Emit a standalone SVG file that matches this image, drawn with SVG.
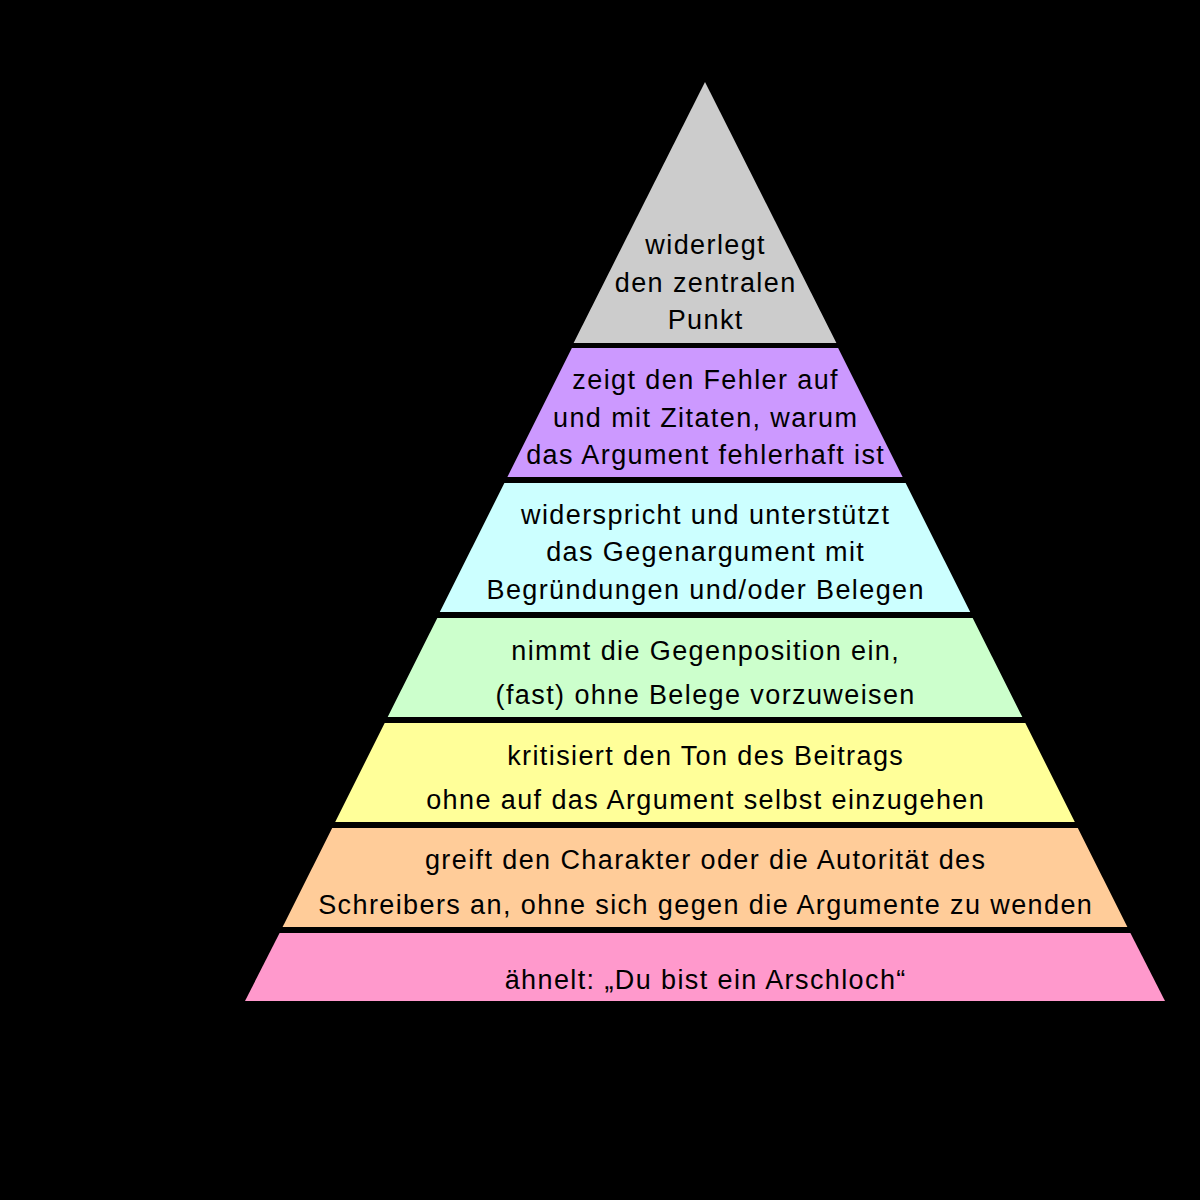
<svg xmlns="http://www.w3.org/2000/svg" width="1200" height="1200" viewBox="0 0 1200 1200">
<style>
text{font-family:"Liberation Sans",Arial,sans-serif;font-size:27px;letter-spacing:1.4px;fill:#000;text-anchor:middle}
</style>
<rect width="1200" height="1200" fill="#000"/>
<g id="level7"><polygon points="705,82 836.4,343 573.6,343" fill="#cccccc"/>
<text x="705.7" y="254">widerlegt</text><text x="705.7" y="292">den zentralen</text><text x="705.7" y="329">Punkt</text></g>
<g id="level6"><polygon points="571.9,348 838.1,348 902.6,477 507.4,477" fill="#cc99ff"/>
<text x="705.7" y="389">zeigt den Fehler auf</text><text x="705.7" y="426.5">und mit Zitaten, warum</text><text x="705.7" y="463.5">das Argument fehlerhaft ist</text></g>
<g id="level5"><polygon points="504.4,483 905.6,483 970.2,612 439.8,612" fill="#ccffff"/>
<text x="705.7" y="524">widerspricht und unterstützt</text><text x="705.7" y="561">das Gegenargument mit</text><text x="705.7" y="598.5">Begründungen und/oder Belegen</text></g>
<g id="level4"><polygon points="437.3,618 972.7,618 1022.3,717 387.7,717" fill="#ccffcc"/>
<text x="705.7" y="660">nimmt die Gegenposition ein,</text><text x="705.7" y="704">(fast) ohne Belege vorzuweisen</text></g>
<g id="level3"><polygon points="384.7,723 1025.3,723 1074.8,822 335.2,822" fill="#ffff99"/>
<text x="705.7" y="765">kritisiert den Ton des Beitrags</text><text x="705.7" y="809">ohne auf das Argument selbst einzugehen</text></g>
<g id="level2"><polygon points="332.2,828 1077.8,828 1127.4,927 282.6,927" fill="#ffcc99"/>
<text x="705.7" y="869">greift den Charakter oder die Autorität des</text><text x="705.7" y="914">Schreibers an, ohne sich gegen die Argumente zu wenden</text></g>
<g id="level1"><polygon points="279.6,933 1130.4,933 1165,1001 245,1001" fill="#ff99cc"/>
<text x="705.7" y="989">ähnelt: „Du bist ein Arschloch“</text></g>
<g id="connectors"/>
</svg>
